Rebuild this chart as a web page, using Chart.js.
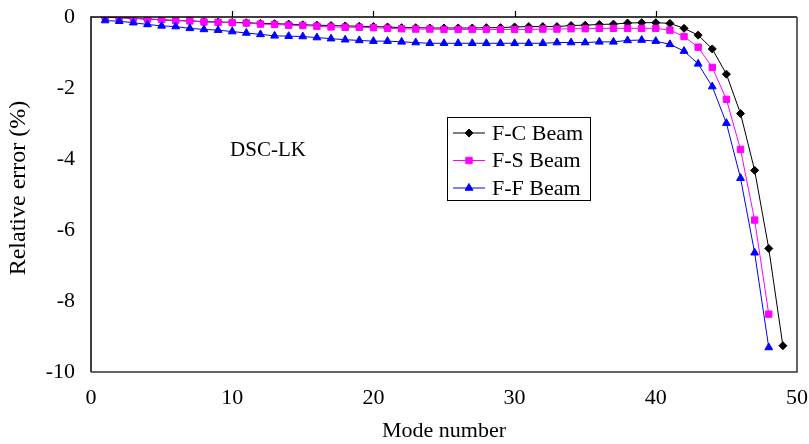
<!DOCTYPE html>
<html>
<head>
<meta charset="utf-8">
<script src="https://cdn.jsdelivr.net/npm/chart.js@4.4.1/dist/chart.umd.min.js"></script>
<style>
  html, body { margin: 0; padding: 0; background: #fff; }
  #wrap { width: 809px; height: 444px; }
</style>
</head>
<body>
<div id="wrap"><canvas id="c" width="809" height="444"></canvas></div>
<script>
// Relative error (%) of the DSC-LK frequencies, per mode number
const modesFC = Array.from({length: 49}, (_, i) => i + 1);
const modesFSFF = Array.from({length: 48}, (_, i) => i + 1);

const errFC = [
  -0.01, -0.02, -0.04, -0.06, -0.08, -0.10, -0.11, -0.13, -0.14, -0.15,
  -0.16, -0.18, -0.19, -0.20, -0.22, -0.23, -0.24, -0.25, -0.26, -0.27,
  -0.28, -0.30, -0.30, -0.31, -0.31, -0.31, -0.31, -0.30, -0.30, -0.28,
  -0.27, -0.27, -0.27, -0.24, -0.23, -0.21, -0.20, -0.17, -0.16, -0.16,
  -0.18, -0.32, -0.51, -0.90, -1.61, -2.72, -4.32, -6.52, -9.26
];
const errFS = [
  0.00, -0.01, -0.03, -0.06, -0.07, -0.10, -0.11, -0.14, -0.15, -0.16,
  -0.17, -0.20, -0.21, -0.23, -0.24, -0.26, -0.28, -0.29, -0.29, -0.30,
  -0.32, -0.33, -0.34, -0.34, -0.35, -0.35, -0.35, -0.35, -0.35, -0.35,
  -0.35, -0.34, -0.34, -0.33, -0.33, -0.32, -0.32, -0.32, -0.32, -0.32,
  -0.37, -0.55, -0.85, -1.42, -2.32, -3.73, -5.72, -8.37
];
const errFF = [
  -0.10, -0.12, -0.16, -0.21, -0.25, -0.27, -0.32, -0.35, -0.37, -0.41,
  -0.45, -0.49, -0.53, -0.54, -0.55, -0.58, -0.61, -0.64, -0.66, -0.68,
  -0.68, -0.70, -0.72, -0.74, -0.74, -0.74, -0.74, -0.74, -0.74, -0.74,
  -0.74, -0.74, -0.72, -0.72, -0.72, -0.70, -0.70, -0.66, -0.65, -0.68,
  -0.77, -0.96, -1.32, -1.96, -2.99, -4.54, -6.64, -9.31
];

const seriesNames = ['F-C Beam', 'F-S Beam', 'F-F Beam'];
const xTicks = [0, 10, 20, 30, 40, 50];
const yTicks = [0, -2, -4, -6, -8, -10];
const methodLabel = 'DSC-LK';
const yTitle = 'Relative error (%)';

const pts = (xs, ys) => xs.map((x, i) => ({x, y: ys[i]}));
const SERIF = '"Liberation Serif", "Times New Roman", serif';

// Frame, top tick marks, y title, method label and boxed legend
const decor = {
  id: 'decor',
  afterDatasetsDraw(chart) {
    const {ctx, chartArea: a, scales: {x, y}} = chart;
    ctx.save();
    // plot frame
    ctx.strokeStyle = '#000';
    ctx.lineWidth = 1.5;
    ctx.beginPath();
    ctx.moveTo(a.left, a.bottom);
    ctx.lineTo(a.left, a.top);
    ctx.lineTo(a.right, a.top);
    ctx.stroke();
    ctx.strokeStyle = '#333';
    ctx.lineWidth = 1.5;
    ctx.beginPath();
    ctx.moveTo(a.right, a.top);
    ctx.lineTo(a.right, a.bottom);
    ctx.lineTo(a.left, a.bottom);
    ctx.stroke();
    // x-axis ticks on the zero line (top edge), pointing outward
    ctx.strokeStyle = '#000';
    ctx.lineWidth = 1.2;
    ctx.beginPath();
    xTicks.slice(1, -1).forEach(v => {
      const px = Math.round(x.getPixelForValue(v)) + 0.5;
      ctx.moveTo(px, a.top);
      ctx.lineTo(px, a.top - 6);
    });
    ctx.stroke();

    // y-axis title, rotated
    ctx.save();
    ctx.translate(19, 188);
    ctx.rotate(-Math.PI / 2);
    ctx.fillStyle = '#000';
    ctx.font = '24px ' + SERIF;
    ctx.textAlign = 'center';
    ctx.textBaseline = 'middle';
    ctx.fillText(yTitle, 0, 0);
    ctx.restore();

    // method label
    ctx.fillStyle = '#000';
    ctx.font = '21px ' + SERIF;
    ctx.textBaseline = 'middle';
    ctx.textAlign = 'left';
    ctx.fillText(methodLabel, x.getPixelForValue(9.85), y.getPixelForValue(-3.75));

    // legend box
    const bx = 447, by = 117, bw = 143, bh = 83;
    ctx.fillStyle = '#fff';
    ctx.fillRect(bx, by, bw, bh);
    ctx.strokeStyle = '#000';
    ctx.lineWidth = 1;
    ctx.strokeRect(bx + 0.5, by + 0.5, bw, bh);
    chart.data.datasets.forEach((ds, i) => {
      const cy = by + 16 + i * 27.5;
      ctx.strokeStyle = ds.borderColor;
      ctx.lineWidth = 1;
      ctx.beginPath();
      ctx.moveTo(bx + 6, cy);
      ctx.lineTo(bx + 38, cy);
      ctx.stroke();
      ctx.fillStyle = ds.pointBackgroundColor;
      ctx.strokeStyle = ds.borderColor;
      Chart.helpers.drawPoint(ctx, {
        pointStyle: ds.pointStyle, radius: ds.pointRadius, borderWidth: 1, rotation: 0
      }, bx + 22, cy);
      ctx.fillStyle = '#000';
      ctx.font = '22px ' + SERIF;
      ctx.textAlign = 'left';
      ctx.textBaseline = 'middle';
      ctx.fillText(ds.label, bx + 45, cy + 1);
    });
    ctx.restore();
  }
};

const noPad = s => { s.paddingLeft = 0; s.paddingRight = 0; s.paddingTop = 0; s.paddingBottom = 0; };

new Chart(document.getElementById('c'), {
  type: 'line',
  data: {
    datasets: [
      { label: seriesNames[0], data: pts(modesFC, errFC), borderColor: '#000000',
        pointBackgroundColor: '#000000', pointBorderColor: '#000000',
        pointStyle: 'rectRot', pointRadius: 4, borderWidth: 1, order: 3 },
      { label: seriesNames[1], data: pts(modesFSFF, errFS), borderColor: '#FF00FF',
        pointBackgroundColor: '#FF00FF', pointBorderColor: '#FF00FF',
        pointStyle: 'rect', pointRadius: 4.5, borderWidth: 1, order: 2 },
      { label: seriesNames[2], data: pts(modesFSFF, errFF), borderColor: '#0000FF',
        pointBackgroundColor: '#0000FF', pointBorderColor: '#0000FF',
        pointStyle: 'triangle', pointRadius: 4.5, borderWidth: 1, order: 1 }
    ]
  },
  options: {
    responsive: false,
    animation: false,
    devicePixelRatio: 1,
    layout: { padding: { left: 0, right: 12, top: 17, bottom: 0 } },
    plugins: { legend: { display: false }, tooltip: { enabled: false } },
    elements: { line: { tension: 0 }, point: { borderWidth: 1, hoverRadius: 4 } },
    scales: {
      x: {
        type: 'linear', min: 0, max: 50,
        afterFit: s => { s.height = 72; noPad(s); },
        afterBuildTicks: s => { s.ticks = xTicks.map(v => ({value: v})); },
        grid: { display: false, drawTicks: false },
        border: { display: false },
        ticks: { padding: 13, color: '#000', maxRotation: 0, font: { family: SERIF, size: 22 } },
        title: { display: true, text: 'Mode number', color: '#000',
                 font: { family: SERIF, size: 22 }, padding: { top: 0, bottom: 0 } }
      },
      y: {
        type: 'linear', min: -10, max: 0,
        afterFit: s => { s.width = 91; noPad(s); },
        afterBuildTicks: s => { s.ticks = yTicks.map(v => ({value: v})); },
        grid: { display: false, drawTicks: false },
        border: { display: false },
        ticks: { padding: 16, color: '#000', font: { family: SERIF, size: 22 } },
        title: { display: false }
      }
    }
  },
  plugins: [decor]
});
</script>
</body>
</html>
